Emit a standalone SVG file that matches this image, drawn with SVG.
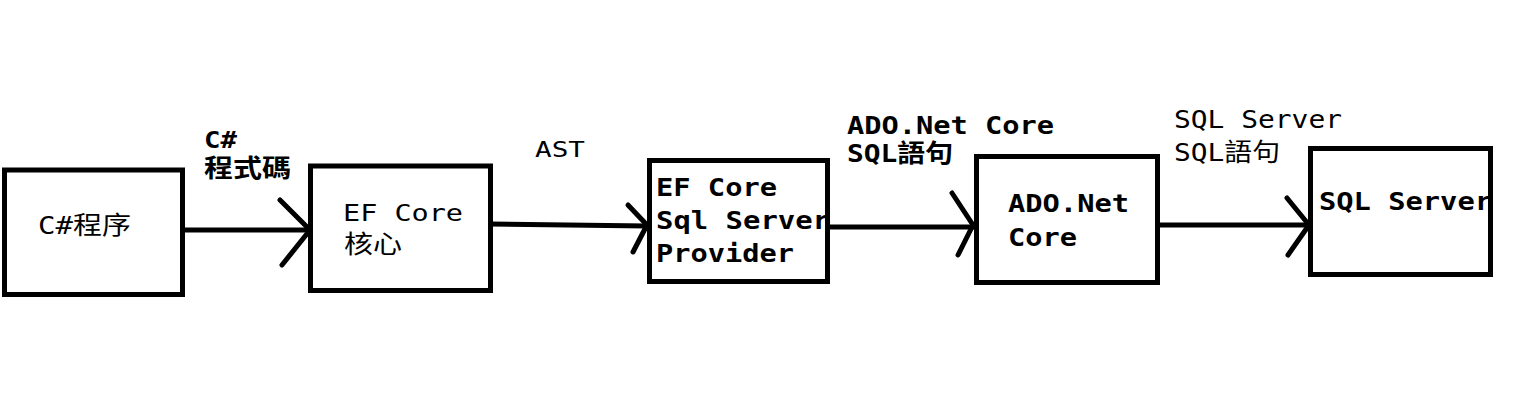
<svg xmlns="http://www.w3.org/2000/svg" width="1517" height="410" viewBox="0 0 1517 410">
<style>
.box{fill:#fff;stroke:#000;stroke-width:5}
.ln{fill:none;stroke:#000;stroke-width:5;stroke-linecap:round;stroke-linejoin:round}
text{font-family:"DejaVu Sans Mono","Noto Sans CJK TC",monospace;font-size:24px;fill:#000}
.b{font-weight:bold}
</style>
<rect width="1517" height="410" fill="#fff"/>
<g id="connectors">
<polyline class="ln" points="184,230 310,230"/>
<polyline class="ln" points="280,200 310,230 282,265"/>
<polyline class="ln" points="490,224 647,226"/>
<polyline class="ln" points="628,205 647,225 633,252"/>
<polyline class="ln" points="830,227 975,227"/>
<polyline class="ln" points="952,193 973,225 958,255"/>
<polyline class="ln" points="1160,225 1310,225"/>
<polyline class="ln" points="1287,198 1309,225 1288,255"/>
</g>
<g id="node-csharp">
<rect class="box" x="4.5" y="170" width="178" height="124.5"/>
<text x="38" y="234" style="font-size:25px" textLength="93" lengthAdjust="spacingAndGlyphs">C#程序</text>
</g>
<g id="node-efcore">
<rect class="box" x="310.5" y="166" width="180" height="124.5"/>
<text x="343" y="221" style="font-size:23px" textLength="120" lengthAdjust="spacingAndGlyphs">EF Core</text>
<text x="344" y="253" style="font-size:25px" textLength="58" lengthAdjust="spacingAndGlyphs">核心</text>
</g>
<g id="node-provider">
<rect class="box" x="649.5" y="160.5" width="178" height="121"/>
<text class="b" x="656" y="196" style="font-size:25px" textLength="121" lengthAdjust="spacingAndGlyphs">EF Core</text>
<text class="b" x="656" y="229" style="font-size:25px" textLength="174" lengthAdjust="spacingAndGlyphs">Sql Server</text>
<text class="b" x="656" y="262" style="font-size:25px" textLength="138" lengthAdjust="spacingAndGlyphs">Provider</text>
</g>
<g id="node-adonet">
<rect class="box" x="976.5" y="156.5" width="181" height="126"/>
<text class="b" x="1008" y="212" style="font-size:25px" textLength="121" lengthAdjust="spacingAndGlyphs">ADO.Net</text>
<text class="b" x="1008" y="246" style="font-size:25px" textLength="69" lengthAdjust="spacingAndGlyphs">Core</text>
</g>
<g id="node-sqlserver">
<rect class="box" x="1310.5" y="148.5" width="180" height="126"/>
<text class="b" x="1319" y="210" style="font-size:25px" textLength="173" lengthAdjust="spacingAndGlyphs">SQL Server</text>
</g>
<g id="labels">
<text class="b" x="204" y="148" style="font-size:23px" textLength="33" lengthAdjust="spacingAndGlyphs">C#</text>
<text class="b" x="204" y="177" style="font-size:25px" textLength="87" lengthAdjust="spacingAndGlyphs">程式碼</text>
<text x="535" y="157" style="font-size:22px" textLength="50" lengthAdjust="spacingAndGlyphs">AST</text>
<text class="b" x="847" y="134" style="font-size:25px" textLength="207" lengthAdjust="spacingAndGlyphs">ADO.Net Core</text>
<text class="b" x="847" y="162" style="font-size:25px" textLength="106" lengthAdjust="spacingAndGlyphs">SQL語句</text>
<text x="1174" y="128" style="font-size:25px" textLength="168" lengthAdjust="spacingAndGlyphs">SQL Server</text>
<text x="1174" y="161" style="font-size:25px" textLength="106" lengthAdjust="spacingAndGlyphs">SQL語句</text>
</g>
</svg>
